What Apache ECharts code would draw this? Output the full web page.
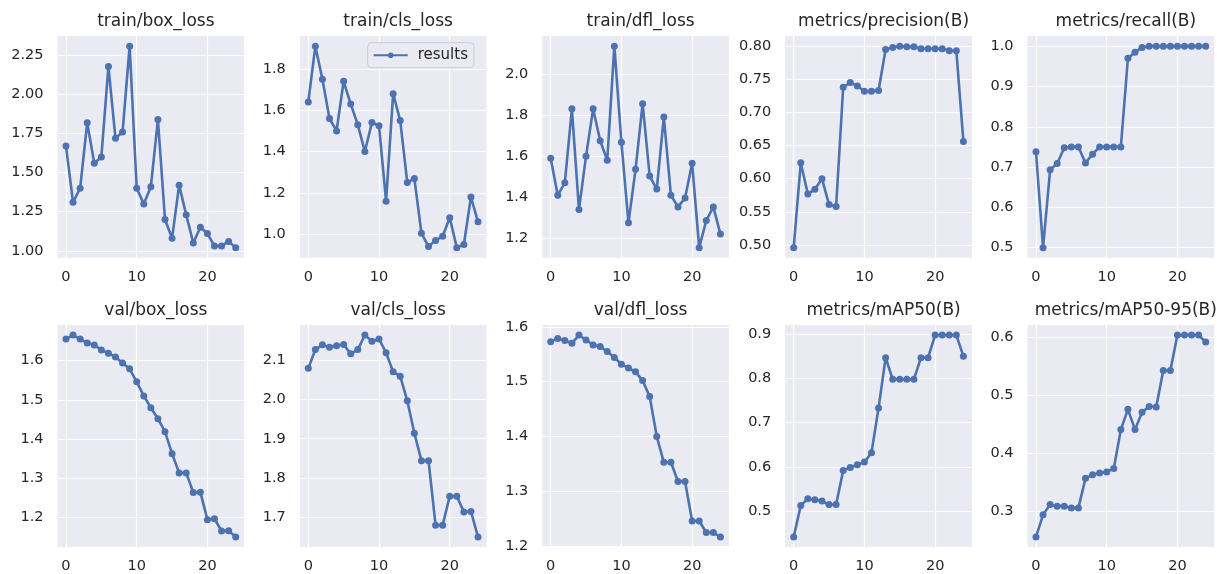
<!DOCTYPE html>
<html><head><meta charset="utf-8">
<script src="https://cdn.jsdelivr.net/npm/echarts@6/dist/echarts.min.js"></script>
<style>html,body{margin:0;padding:0;background:#fff}#c{width:1217px;height:574px}</style>
</head><body><div id="c"></div>
<script>
const epochs = [0,1,2,3,4,5,6,7,8,9,10,11,12,13,14,15,16,17,18,19,20,21,22,23,24];
const trainBoxLoss = [1.67,1.31,1.40,1.82,1.56,1.60,2.18,1.72,1.76,2.31,1.40,1.30,1.41,1.84,1.20,1.08,1.42,1.23,1.05,1.15,1.11,1.03,1.03,1.06,1.02];
const trainClsLoss = [1.64,1.91,1.75,1.56,1.50,1.74,1.63,1.53,1.40,1.54,1.525,1.16,1.68,1.55,1.25,1.27,1.005,0.94,0.97,0.99,1.08,0.935,0.95,1.18,1.06];
const trainDflLoss = [1.59,1.41,1.47,1.83,1.34,1.60,1.83,1.675,1.58,2.135,1.668,1.276,1.536,1.855,1.503,1.44,1.79,1.41,1.353,1.396,1.565,1.155,1.287,1.353,1.221];
const precisionB = [0.496,0.624,0.577,0.584,0.600,0.561,0.558,0.738,0.745,0.740,0.732,0.732,0.733,0.795,0.798,0.800,0.799,0.799,0.796,0.796,0.796,0.796,0.793,0.793,0.656];
const recallB = [0.738,0.50,0.693,0.709,0.748,0.75,0.75,0.71,0.732,0.75,0.75,0.75,0.75,0.97,0.985,0.997,1.0,1.0,1.0,1.0,1.0,1.0,1.0,1.0,1.0];
const valBoxLoss = [1.655,1.665,1.655,1.645,1.640,1.627,1.619,1.609,1.594,1.579,1.546,1.510,1.480,1.452,1.419,1.363,1.314,1.314,1.264,1.265,1.195,1.197,1.166,1.167,1.151];
const valClsLoss = [2.080,2.128,2.140,2.134,2.138,2.141,2.117,2.128,2.165,2.149,2.155,2.120,2.071,2.060,1.997,1.914,1.844,1.844,1.679,1.679,1.753,1.753,1.713,1.714,1.649];
const valDflLoss = [1.573,1.579,1.575,1.570,1.585,1.576,1.567,1.564,1.555,1.544,1.532,1.525,1.518,1.502,1.473,1.400,1.353,1.353,1.318,1.318,1.246,1.246,1.225,1.225,1.217];
const mAP50B = [0.442,0.513,0.528,0.526,0.523,0.515,0.515,0.592,0.599,0.605,0.611,0.632,0.733,0.847,0.798,0.798,0.798,0.798,0.847,0.847,0.898,0.898,0.898,0.898,0.850];
const mAP5095B = [0.255,0.293,0.311,0.308,0.308,0.305,0.305,0.356,0.362,0.365,0.367,0.373,0.440,0.475,0.440,0.470,0.480,0.479,0.542,0.542,0.603,0.603,0.603,0.603,0.591];

const panelTitles = ['train/box_loss','train/cls_loss','train/dfl_loss','metrics/precision(B)','metrics/recall(B)',
  'val/box_loss','val/cls_loss','val/dfl_loss','metrics/mAP50(B)','metrics/mAP50-95(B)'];
const panelData = [trainBoxLoss,trainClsLoss,trainDflLoss,precisionB,recallB,valBoxLoss,valClsLoss,valDflLoss,mAP50B,mAP5095B];
const yTickValues = [
  [1.00,1.25,1.50,1.75,2.00,2.25],
  [1.0,1.2,1.4,1.6,1.8],
  [1.2,1.4,1.6,1.8,2.0],
  [0.50,0.55,0.60,0.65,0.70,0.75,0.80],
  [0.5,0.6,0.7,0.8,0.9,1.0],
  [1.2,1.3,1.4,1.5,1.6],
  [1.7,1.8,1.9,2.0,2.1],
  [1.2,1.3,1.4,1.5,1.6],
  [0.5,0.6,0.7,0.8,0.9],
  [0.3,0.4,0.5,0.6]
];
const yTickDecimals = [2,1,1,2,1,1,1,1,1,1];
const xTickValues = [0,10,20];
const seriesName = 'results';

const colLefts = [57.5,299.8,542.2,785.2,1027.5];
const plotW = 186.7;
const rowTops = [36.1,325.0];
const plotH = [221.6,222.6];
const titleTops = [8,297];
const blue = '#4C72B0';
const txt = '#262626';

const grids=[],xAxes=[],yAxes=[],series=[],titles=[];
panelData.forEach((vals,i)=>{
  const r = Math.floor(i/5), c = i%5;
  grids.push({left:colLefts[c],top:rowTops[r],width:plotW,height:plotH[r],show:true,backgroundColor:'#EAEAF2',borderWidth:0,containLabel:false});
  const lo = Math.min(...vals), hi = Math.max(...vals), pad = (hi-lo)*0.05;
  const xlo = epochs[0], xhi = epochs[epochs.length-1], xpad=(xhi-xlo)*0.05;
  xAxes.push({type:'value',gridIndex:i,min:xlo-xpad,max:xhi+xpad,
    axisLine:{show:false},axisTick:{show:false,customValues:xTickValues},
    axisLabel:{customValues:xTickValues,color:txt,fontSize:14.5,fontFamily:'DejaVu Sans',margin:12,formatter:v=>String(Math.round(v))},
    splitLine:{show:true,lineStyle:{color:'#ffffff',width:1.2}}});
  const dec = yTickDecimals[i];
  yAxes.push({type:'value',gridIndex:i,min:lo-pad,max:hi+pad,
    axisLine:{show:false},axisTick:{show:false,customValues:yTickValues[i]},
    axisLabel:{customValues:yTickValues[i],color:txt,fontSize:14.5,fontFamily:'DejaVu Sans',margin:14,formatter:v=>v.toFixed(dec)},
    splitLine:{show:true,lineStyle:{color:'#ffffff',width:1.2}}});
  series.push({type:'line',name:seriesName,xAxisIndex:i,yAxisIndex:i,
    data:epochs.map((e,j)=>[e,vals[j]]),symbol:'circle',symbolSize:7,showSymbol:true,
    lineStyle:{color:blue,width:2.6},itemStyle:{color:blue},z:3,animation:false});
  titles.push({text:panelTitles[i],left:colLefts[c]+plotW/2,top:titleTops[r],textAlign:'center',
    textStyle:{color:txt,fontSize:17,fontWeight:'normal',fontFamily:'DejaVu Sans'}});
});

const chart = echarts.init(document.getElementById('c'),null,{renderer:'canvas'});
chart.setOption({
  animation:false,
  backgroundColor:'#ffffff',
  title:titles,
  grid:grids,xAxis:xAxes,yAxis:yAxes,series:series,
  legend:{data:[seriesName],left:367.7,top:42.7,orient:'horizontal',
    backgroundColor:'#EAEAF2',borderColor:'#cccccc',borderWidth:1,borderRadius:4,
    padding:[5,6,5,5],itemWidth:34,itemHeight:7,
    textStyle:{color:txt,fontSize:15,fontFamily:'DejaVu Sans',padding:[0,0,0,5]}}
});
</script></body></html>
